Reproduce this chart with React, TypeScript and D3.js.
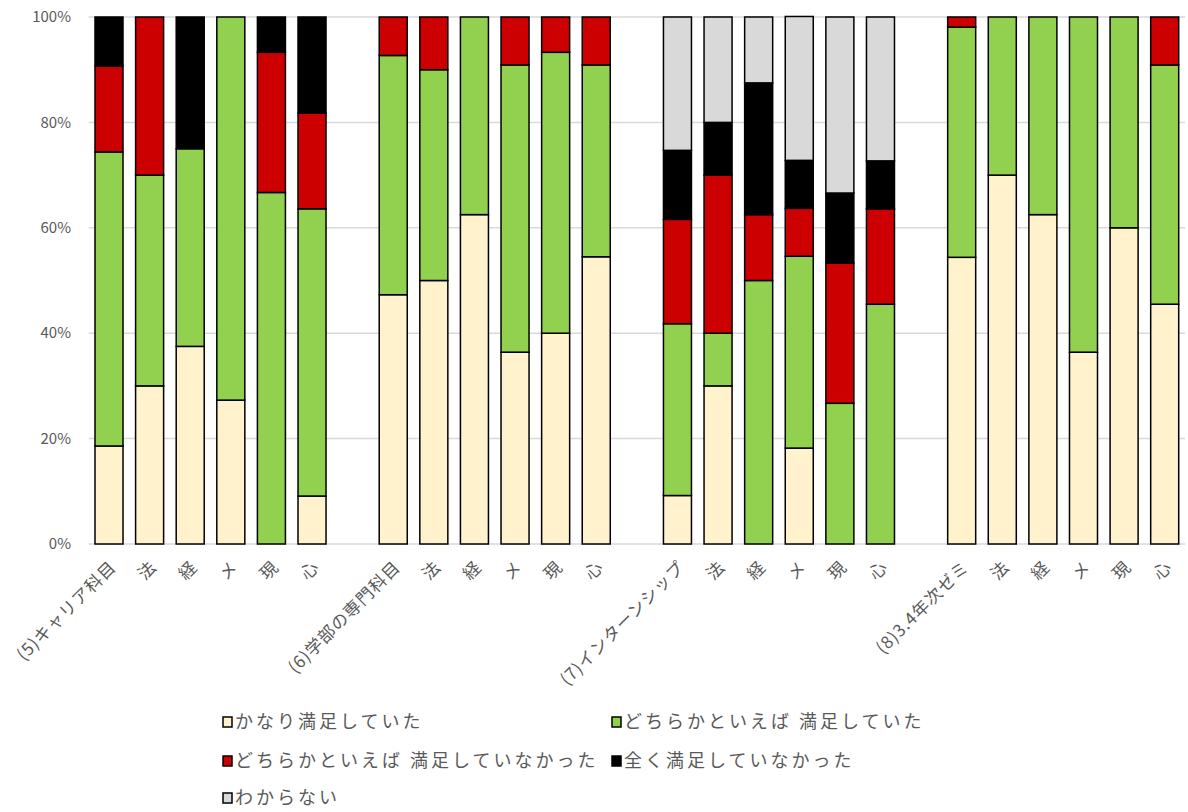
import React from "react";
import * as d3 from "d3";

const categories = [
  "(5)キャリア科目", "法", "経", "メ", "現", "心", "",
  "(6)学部の専門科目", "法", "経", "メ", "現", "心", "",
  "(7)インターンシップ", "法", "経", "メ", "現", "心", "",
  "(8)3.4年次ゼミ", "法", "経", "メ", "現", "心",
];

const seriesNames = [
  "かなり満足していた",
  "どちらかといえば 満足していた",
  "どちらかといえば 満足していなかった",
  "全く満足していなかった",
  "わからない",
];

const seriesColors = ["#FFF2CC", "#92D050", "#CC0000", "#000000", "#D9D9D9"];

// values per category (null for gap columns)
const kanari = [18.6, 30, 37.5, 27.3, 0, 9.1, null, 47.3, 50, 62.5, 36.4, 40, 54.5, null, 9.2, 30, 0, 18.2, 0, 0, null, 54.4, 70, 62.5, 36.4, 60, 45.5];
const dochiraYes = [55.8, 40, 37.5, 72.7, 66.7, 54.5, null, 45.4, 40, 37.5, 54.5, 53.3, 36.4, null, 32.6, 10, 50, 36.4, 26.7, 45.5, null, 43.7, 30, 37.5, 63.6, 40, 45.4];
const dochiraNo = [16.3, 30, 0, 0, 26.6, 18.2, null, 7.3, 10, 0, 9.1, 6.7, 9.1, null, 19.8, 30, 12.5, 9.1, 26.6, 18.1, null, 1.9, 0, 0, 0, 0, 9.1];
const mattaku = [9.3, 0, 25, 0, 6.7, 18.2, null, 0, 0, 0, 0, 0, 0, null, 13.1, 10, 25, 9.1, 13.3, 9.1, null, 0, 0, 0, 0, 0, 0];
const wakaranai = [0, 0, 0, 0, 0, 0, null, 0, 0, 0, 0, 0, 0, null, 25.3, 20, 12.5, 27.3, 33.4, 27.3, null, 0, 0, 0, 0, 0, 0];

const seriesValues = [kanari, dochiraYes, dochiraNo, mattaku, wakaranai];

const yTicks = [0, 20, 40, 60, 80, 100];

const W = 1188;
const H = 812;
const M = { left: 88.7, right: 3, top: 17, bottom: 268 };

export default function App() {
  const ids = categories.map((_, i) => String(i));
  const x = d3
    .scaleBand<string>()
    .domain(ids)
    .range([M.left, W - M.right])
    .paddingInner(0.31)
    .paddingOuter(0.155);
  const y = d3.scaleLinear().domain([0, 100]).range([H - M.bottom, M.top]);

  const rows = categories.map((c, i) => {
    const r: any = { id: String(i) };
    seriesValues.forEach((s, k) => (r["s" + k] = s[i] ?? 0));
    return r;
  });
  const keys = seriesValues.map((_, k) => "s" + k);
  const stacked = d3.stack().keys(keys)(rows);

  const font = "'Noto Sans CJK JP', 'Noto Sans', sans-serif";
  const textColor = "#595959";

  const legendItems = [
    { k: 0, x: 219, y: 722 },
    { k: 1, x: 608, y: 722 },
    { k: 2, x: 219, y: 761 },
    { k: 3, x: 608, y: 761 },
    { k: 4, x: 219, y: 798 },
  ];

  return (
    <svg
      width={W}
      height={H}
      style={{ position: "absolute", left: 0, top: 0, background: "#fff" }}
      fontFamily={font}
    >
      {yTicks.map((t) => (
        <g key={t}>
          <line
            x1={M.left}
            x2={W - M.right}
            y1={y(t)}
            y2={y(t)}
            stroke="#D9D9D9"
            strokeWidth={1.5}
          />
          <text
            x={71}
            y={y(t)}
            dy="0.35em"
            textAnchor="end"
            fontSize={15}
            fill={textColor}
          >
            {t}%
          </text>
        </g>
      ))}
      {stacked.map((layer, k) => (
        <g key={k}>
          {layer.map((d, i) => {
            if (categories[i] === "") return null;
            const h = y(d[0]) - y(d[1]);
            if (h <= 0.01) return null;
            return (
              <rect
                key={i}
                x={x(String(i))}
                y={y(d[1])}
                width={x.bandwidth()}
                height={h}
                fill={seriesColors[k]}
                stroke="#000"
                strokeWidth={1.5}
              />
            );
          })}
        </g>
      ))}
      {categories.map((c, i) => {
        if (!c) return null;
        const cx = (x(String(i)) as number) + x.bandwidth() / 2;
        const ty = y(0) + 20;
        return (
          <text
            key={i}
            transform={`translate(${cx + 4},${ty}) rotate(-45)`}
            textAnchor="end"
            dy="0.35em"
            fontSize={17}
            letterSpacing={1}
            fill={textColor}
          >
            {c}
          </text>
        );
      })}
      {legendItems.map((it) => (
        <g key={it.k}>
          <rect
            x={it.x + 4}
            y={it.y - 5}
            width={9}
            height={10}
            fill={seriesColors[it.k]}
            stroke="#000"
            strokeWidth={1.5}
          />
          <text
            x={it.x + 16}
            y={it.y}
            dy="0.35em"
            fontSize={18}
            letterSpacing={3}
            fill={textColor}
          >
            {seriesNames[it.k]}
          </text>
        </g>
      ))}
    </svg>
  );
}
